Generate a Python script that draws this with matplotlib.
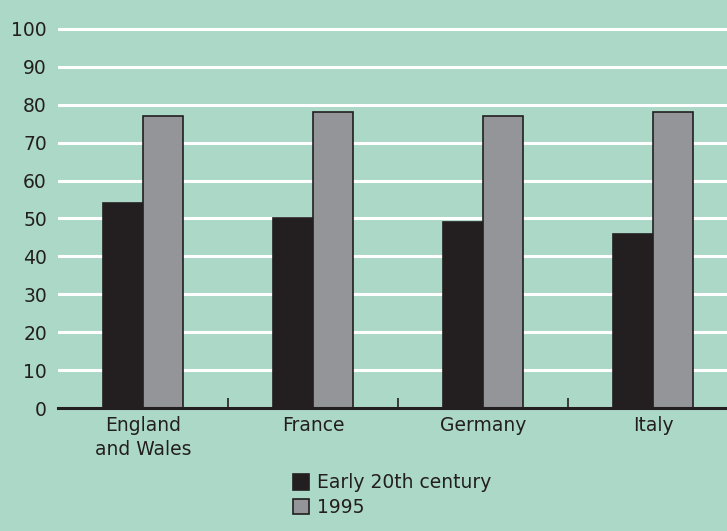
import matplotlib.pyplot as plt
import numpy as np

# life expectancy at birth (years)
countries = ["England\nand Wales", "France", "Germany", "Italy"]
early_20th = [54, 50, 49, 46]
y1995 = [77, 78, 77, 78]
series_labels = ["Early 20th century", "1995"]

bg = "#acd8c8"
ink = "#231f20"
fs = 13.5
plt.rcParams['font.family'] = ['DejaVu Sans']

fig = plt.figure(figsize=(7.27, 5.31), dpi=100, facecolor=bg)
ax = fig.add_axes([58 / 727, 1 - 408 / 531, 1 - 58 / 727, (408 - 21.4) / 531])
ax.set_facecolor(bg)

x = np.arange(len(countries))
w = 40 / 170.
b1 = ax.bar(x - w / 2, early_20th, w, color=ink, edgecolor=ink,
            linewidth=1.2, label=series_labels[0], zorder=3)
b2 = ax.bar(x + w / 2, y1995, w, color="#939598", edgecolor=ink,
            linewidth=1.2, label=series_labels[1], zorder=3)

ax.set_ylim(0, 102)
ax.set_xlim(-0.5, 3.5 - 11 / 170.)
ax.set_yticks(range(0, 101, 10))
ax.yaxis.grid(True, color="white", linewidth=2.2, zorder=1)
ax.set_axisbelow(True)

for s in ["top", "right", "left"]:
    ax.spines[s].set_visible(False)
ax.spines["bottom"].set_linewidth(2.2)
ax.spines["bottom"].set_color(ink)
ax.spines["bottom"].set_zorder(4)

ax.tick_params(axis="y", length=0, pad=8, labelsize=fs, labelcolor=ink)
ax.set_xticks(x)
ax.set_xticklabels(countries, fontsize=fs, color=ink, linespacing=1.3)
ax.tick_params(axis="x", length=0, pad=6)

# small separators between the groups
ax.set_xticks(x[:-1] + 0.5, minor=True)
ax.tick_params(axis="x", which="minor", direction="in", length=7, width=1.2, color=ink)

leg = fig.legend(handles=[b1, b2], labels=series_labels, loc="upper left",
                 bbox_to_anchor=(285 / 727, 1 - 466 / 531), frameon=False,
                 fontsize=fs, handlelength=0.9, handleheight=0.9,
                 handletextpad=0.4, labelspacing=0.3, borderaxespad=0,
                 labelcolor=ink)

fig.savefig("out.png", dpi=100, facecolor=bg)
